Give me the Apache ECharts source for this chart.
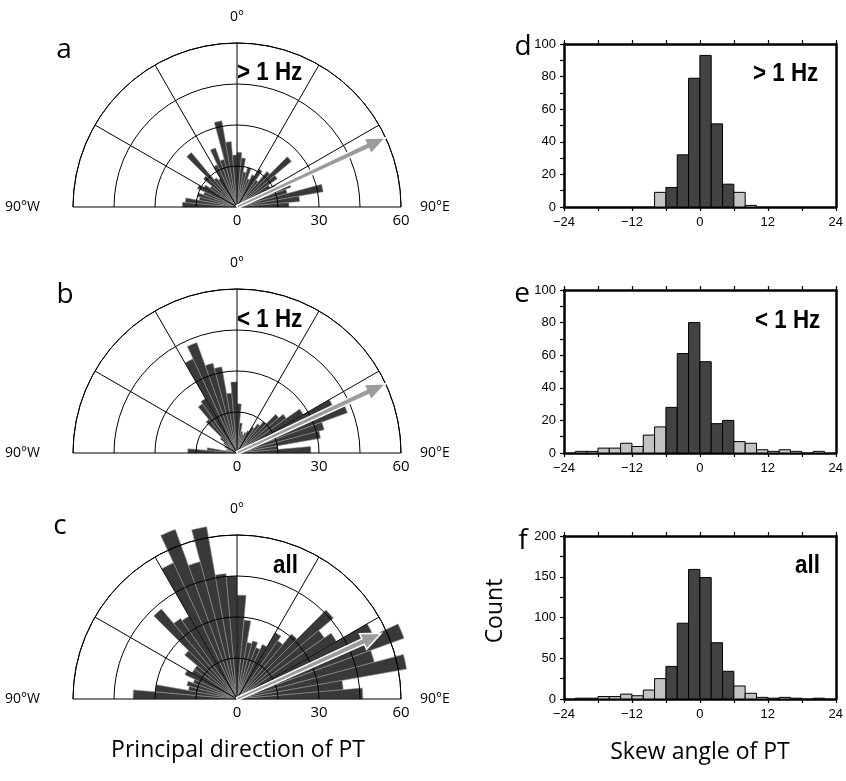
<!DOCTYPE html>
<html>
<head>
<meta charset="utf-8">
<script src="https://cdn.jsdelivr.net/npm/echarts@6/dist/echarts.min.js"></script>
<style>
  html, body { margin: 0; padding: 0; background: #fff; }
  #chart { width: 846px; height: 781px; }
</style>
</head>
<body>
<div id="chart"></div>
<script>
// principal direction bins (azimuth, degrees, left edge of each 5° bin)
const dirBinStart = [-90, -85, -80, -75, -70, -65, -60, -55, -50, -45, -40, -35, -30, -25, -20, -15, -10, -5,
  0, 5, 10, 15, 20, 25, 30, 35, 40, 45, 50, 55, 60, 65, 70, 75, 80, 85];
const dirBinWidth = 5;
const roseHigh = [20, 19, 14, 15, 13, 16, 14, 12, 16, 26, 13, 12, 17, 23, 18, 32, 24, 19,
  20, 18, 13, 15, 11, 13, 16, 12, 17, 26, 18, 14, 16, 21, 19, 32, 23, 19];
const roseLow = [18, 11, 4, 3, 4, 5, 5, 6, 8, 16, 22, 23, 38, 43, 34, 32, 22, 26,
  18, 11, 8, 7, 8, 9, 11, 13, 15, 20, 22, 28, 39, 43, 33, 31, 15, 27];
const roseAll = [38, 30, 18, 19, 17, 21, 19, 19, 25, 43, 36, 35, 55, 66, 52, 64, 46, 45,
  38, 29, 21, 22, 20, 22, 28, 26, 31, 46, 39, 42, 55, 65, 52, 63, 39, 46];
// mean direction arrows: azimuth and length
const arrowAz = [65, 65, 65.5];
const arrowLen = [60, 60, 58];
const dirTicks = [0, 30, 60];

// skew angle bins (degrees, left edge of each 2° bin)
const skewBinStart = [-24, -22, -20, -18, -16, -14, -12, -10, -8, -6, -4, -2,
  0, 2, 4, 6, 8, 10, 12, 14, 16, 18, 20, 22];
const skewBinWidth = 2;
const skewHigh = [0, 0, 0, 0, 0, 0, 0, 0, 9, 12, 32, 79, 93, 51, 14, 9, 1, 0, 0, 0, 0, 0, 0, 0];
const skewLow = [0, 1, 1, 3, 3, 6, 4, 11, 16, 28, 61, 80, 56, 18, 20, 7, 6, 2, 1, 2, 1, 0, 1, 0];
const skewAll = [0, 1, 1, 3, 3, 6, 4, 11, 25, 40, 93, 159, 149, 69, 34, 16, 7, 2, 1, 2, 1, 0, 1, 0];
const skewTicks = [-24, -12, 0, 12, 24];
const countMax = [100, 100, 200];
const countStep = [20, 20, 50];

const roseData = [roseHigh, roseLow, roseAll];
const skewData = [skewHigh, skewLow, skewAll];
const bandText = ['> 1 Hz', '< 1 Hz', 'all'];

const roseCenters = [[237, 207], [237, 453], [237, 699]];
const histTops = [44, 290, 536];

const chart = echarts.init(document.getElementById('chart'));

// polar 0-2: the roses; polar 3-5: same place, only used to print the radius labels on the east side
const polar = roseCenters.concat(roseCenters).map(c => ({ center: c, radius: 164 }));

const angleAxis = roseCenters.map((c, i) => ({
  polarIndex: i,
  type: 'value',
  min: -90,
  max: 90,
  interval: 30,
  startAngle: 180,
  endAngle: 0,
  clockwise: true,
  z: 5,
  axisLine: { show: true, lineStyle: { color: '#000', width: 1 } },
  axisTick: { show: false },
  splitLine: { show: true, lineStyle: { color: '#000', width: 1 } },
  axisLabel: {
    margin: 19,
    color: '#000',
    fontFamily: 'Open Sans',
    fontSize: 14,
    formatter: v => v === 0 ? '0°' : v === -90 ? '{w|90°W}' : v === 90 ? '{e|90°E}' : '',
    rich: {
      w: { fontFamily: 'Open Sans', fontSize: 14, color: '#000', padding: [0, 14, 0, 0] },
      e: { fontFamily: 'Open Sans', fontSize: 14, color: '#000' }
    }
  }
})).concat(roseCenters.map((c, i) => ({
  polarIndex: i + 3,
  type: 'value', min: 0, max: 360, startAngle: 0,
  axisLine: { show: false }, axisTick: { show: false },
  splitLine: { show: false }, axisLabel: { show: false }
})));

const radiusAxis = roseCenters.map((c, i) => ({
  polarIndex: i,
  type: 'value',
  min: 0,
  max: 60,
  interval: 15,
  z: 5,
  axisLine: { show: false },
  axisTick: { show: false },
  splitLine: { show: true, lineStyle: { color: '#000', width: 1 } },
  axisLabel: { show: false }
})).concat(roseCenters.map((c, i) => ({
  polarIndex: i + 3,
  type: 'value',
  min: 0,
  max: 60,
  interval: 15,
  axisLine: { show: false },
  axisTick: { show: false },
  splitLine: { show: false },
  axisLabel: {
    margin: -21,
    color: '#000',
    fontFamily: 'Open Sans',
    fontSize: 15,
    formatter: v => dirTicks.includes(v) ? String(v) : ''
  }
})));

const grid = histTops.map(t => ({ left: 564, top: t, width: 273, height: 163 }));

const xAxis = [];
const yAxis = [];
histTops.forEach((t, i) => {
  const tickStyle = { color: '#000', width: 1.2 };
  xAxis.push({
    gridIndex: i, type: 'value', min: -24, max: 24, interval: 12,
    axisLine: { onZero: false, lineStyle: { color: '#000', width: 2.5 } },
    axisTick: { length: 4, lineStyle: tickStyle },
    minorTick: { show: true, splitNumber: 2, length: 4, lineStyle: tickStyle },
    splitLine: { show: false },
    axisLabel: {
      margin: 9, color: '#000', fontFamily: 'Liberation Sans', fontSize: 13,
      customValues: skewTicks,
      formatter: v => v < 0 ? '\u2212' + (-v) : String(v)
    }
  });
  xAxis.push({
    gridIndex: i, type: 'value', min: -24, max: 24, interval: 12, position: 'top',
    axisLine: { onZero: false, lineStyle: { color: '#000', width: 2.5 } },
    axisTick: { length: 4, lineStyle: tickStyle },
    minorTick: { show: true, splitNumber: 2, length: 4, lineStyle: tickStyle },
    splitLine: { show: false },
    axisLabel: { show: false }
  });
  yAxis.push({
    gridIndex: i, type: 'value', min: 0, max: countMax[i], interval: countStep[i],
    axisLine: { show: true, onZero: false, lineStyle: { color: '#000', width: 2.5 } },
    axisTick: { show: true, length: 4, lineStyle: tickStyle },
    minorTick: { show: true, splitNumber: 2, length: 4, lineStyle: tickStyle },
    splitLine: { show: false },
    axisLabel: { margin: 8, color: '#000', fontFamily: 'Liberation Sans', fontSize: 13 }
  });
  yAxis.push({
    gridIndex: i, type: 'value', min: 0, max: countMax[i], interval: countStep[i], position: 'right',
    axisLine: { show: true, onZero: false, lineStyle: { color: '#000', width: 2.5 } },
    axisTick: { show: false },
    splitLine: { show: false },
    axisLabel: { show: false }
  });
});

const series = [];

roseData.forEach((vals, i) => {
  series.push({
    type: 'custom',
    coordinateSystem: 'polar',
    polarIndex: i,
    z: 2,
    silent: true,
    data: dirBinStart.map((s, k) => [vals[k], s]),
    renderItem: (params, api) => {
      const v = api.value(0);
      const a0 = api.value(1);
      const pts = [api.coord([0, a0])];
      for (let t = 0; t <= 4; t++) pts.push(api.coord([v, a0 + dirBinWidth * t / 4]));
      return {
        type: 'polygon',
        shape: { points: pts },
        style: { fill: '#393939', stroke: '#8e8e8e', lineWidth: 0.6 }
      };
    }
  });
  series.push({
    type: 'custom',
    coordinateSystem: 'polar',
    polarIndex: i,
    z: 8,
    silent: true,
    data: [[arrowLen[i], arrowAz[i]]],
    renderItem: (params, api) => {
      const c = api.coord([0, api.value(1)]);
      const tip = api.coord([api.value(0), api.value(1)]);
      const dx = tip[0] - c[0], dy = tip[1] - c[1];
      const L = Math.hypot(dx, dy);
      const ux = dx / L, uy = dy / L, nx = -uy, ny = ux;
      const headL = 20, headW = 8.5, shaftW = 3;
      const bx = tip[0] - ux * headL, by = tip[1] - uy * headL;
      const pts = [
        [c[0] + nx * shaftW * 0.5, c[1] + ny * shaftW * 0.5],
        [bx + nx * shaftW, by + ny * shaftW],
        [bx + nx * headW, by + ny * headW],
        tip,
        [bx - nx * headW, by - ny * headW],
        [bx - nx * shaftW, by - ny * shaftW],
        [c[0] - nx * shaftW * 0.5, c[1] - ny * shaftW * 0.5]
      ];
      return {
        type: 'polygon',
        shape: { points: pts },
        style: { fill: '#9c9c9c', stroke: '#fff', lineWidth: 1.5 }
      };
    }
  });
});

skewData.forEach((vals, i) => {
  series.push({
    type: 'custom',
    coordinateSystem: 'cartesian2d',
    xAxisIndex: i * 2,
    yAxisIndex: i * 2,
    z: 1,
    silent: true,
    data: skewBinStart.map((s, k) => [s, vals[k]]),
    renderItem: (params, api) => {
      const x0 = api.value(0), v = api.value(1);
      if (!v) return null;
      const p0 = api.coord([x0, 0]);
      const p1 = api.coord([x0 + skewBinWidth, v]);
      const mid = x0 + skewBinWidth / 2;
      return {
        type: 'rect',
        shape: { x: p0[0], y: p1[1], width: p1[0] - p0[0], height: p0[1] - p1[1] },
        style: { fill: Math.abs(mid) < 6 ? '#434343' : '#c3c3c3', stroke: '#000', lineWidth: 1 }
      };
    }
  });
});

const letterFont = '28px "Open Sans"';
const bandFont = 'bold 26px "Liberation Sans", sans-serif';
const titleFont = '23px "Open Sans"';
const txt = (text, x, y, font, align, extra) => Object.assign({
  type: 'text', x: x, y: y, z: 20, silent: true,
  style: { text: text, font: font, fill: '#000', textAlign: align || 'left', textVerticalAlign: 'middle' }
}, extra || {});
// band labels are set in a condensed face in the original
const band = (text, x, y) => txt(text, x, y, bandFont, 'left', { scaleX: 0.86 });

const graphic = [
  txt('a', 64, 50, letterFont, 'center'),
  txt('b', 65, 295, letterFont, 'center'),
  txt('c', 60, 526, letterFont, 'center'),
  txt('d', 523, 47, letterFont, 'center'),
  txt('e', 522, 294, letterFont, 'center'),
  txt('f', 523, 541, letterFont, 'center'),
  band(bandText[0], 237, 73),
  band(bandText[1], 237, 320),
  band(bandText[2], 273, 566),
  band(bandText[0], 753, 74),
  band(bandText[1], 755, 321),
  band(bandText[2], 795, 566),
  txt('Principal direction of PT', 238, 750, titleFont, 'center'),
  txt('Skew angle of PT', 700, 752, titleFont, 'center'),
  txt('Count', 495, 611, titleFont, 'center', { rotation: Math.PI / 2 })
];

chart.setOption({
  animation: false,
  backgroundColor: '#fff',
  polar: polar,
  angleAxis: angleAxis,
  radiusAxis: radiusAxis,
  grid: grid,
  xAxis: xAxis,
  yAxis: yAxis,
  series: series,
  graphic: graphic
});
</script>
</body>
</html>
